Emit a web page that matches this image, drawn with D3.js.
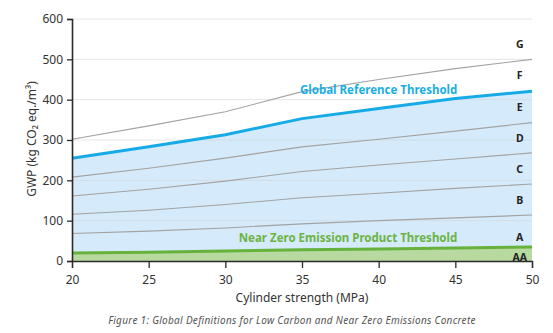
<!DOCTYPE html>
<html>
<head>
<meta charset="utf-8">
<script src="https://cdn.jsdelivr.net/npm/d3@7"></script>
<style>
  body { margin: 0; background: #fff; }
  text { font-family: "Noto Sans", sans-serif; }
</style>
</head>
<body>
<svg id="chart" width="553" height="333"></svg>
<script>
// Strength points along the x axis (MPa)
const strength = [20, 25, 30, 35, 40, 45, 50];

// Class boundaries (kg CO2 eq./m3)
const nearZero = [20, 22, 25, 28, 30, 32, 35];
const lineAB = [68, 74, 82, 92, 100, 107, 114];
const lineBC = [116, 126, 140, 157, 168, 180, 191];
const lineCD = [161, 178, 198, 222, 238, 253, 268];
const lineDE = [208, 230, 255, 283, 302, 322, 343];
const globalRef = [255, 283, 313, 353, 378, 403, 421];
const lineFG = [302, 335, 370, 420, 450, 477, 500];

const classLabels = ["AA", "A", "B", "C", "D", "E", "F", "G"];
const classLabelY = [8, 58, 150, 228, 303, 380, 460, 538];
const yTicks = [0, 100, 200, 300, 400, 500, 600];
const xTicks = [20, 25, 30, 35, 40, 45, 50];

const svg = d3.select("#chart");
const margin = { left: 72, right: 21, top: 19, bottom: 72 };
const width = 553 - margin.left - margin.right;
const height = 333 - margin.top - margin.bottom;

const g = svg.append("g")
  .attr("transform", "translate(" + margin.left + "," + margin.top + ")");

const x = d3.scaleLinear().domain([20, 50]).range([0, width]);
const y = d3.scaleLinear().domain([0, 600]).range([height, 0]);

// Blue band under the global reference, green band under near zero
const area = vals => d3.area()
  .x((d, i) => x(strength[i]))
  .y0(y(0))
  .y1(d => y(d))(vals);

g.append("path").attr("d", area(globalRef)).attr("fill", "#d5eafa");
g.append("path").attr("d", area(nearZero)).attr("fill", "#b8d9a0");

// Horizontal grid
g.selectAll(".grid")
  .data(yTicks.slice(1))
  .enter()
  .append("line")
  .attr("x1", 0)
  .attr("x2", width)
  .attr("y1", d => y(d))
  .attr("y2", d => y(d))
  .attr("stroke", "#cfd6dc")
  .attr("stroke-opacity", 0.6)
  .attr("stroke-width", 1);

const line = d3.line().x((d, i) => x(strength[i])).y(d => y(d));

[lineAB, lineBC, lineCD, lineDE, lineFG].forEach(vals => {
  g.append("path")
    .attr("d", line(vals))
    .attr("fill", "none")
    .attr("stroke", "#a3a3a3")
    .attr("stroke-width", 1.1);
});

g.append("path")
  .attr("d", line(globalRef))
  .attr("fill", "none")
  .attr("stroke", "#16abe6")
  .attr("stroke-width", 3);

g.append("path")
  .attr("d", line(nearZero))
  .attr("fill", "none")
  .attr("stroke", "#67b23c")
  .attr("stroke-width", 3);

// Threshold labels
g.append("text")
  .attr("x", x(40))
  .attr("y", y(415))
  .attr("text-anchor", "middle")
  .attr("fill", "#1aaee6")
  .attr("font-size", 11.5)
  .attr("font-weight", "bold")
  .text("Global Reference Threshold");

g.append("text")
  .attr("x", x(38))
  .attr("y", y(48))
  .attr("text-anchor", "middle")
  .attr("fill", "#6cb443")
  .attr("font-size", 11.5)
  .attr("font-weight", "bold")
  .text("Near Zero Emission Product Threshold");

// Class letters
g.selectAll(".cls")
  .data(classLabels)
  .enter()
  .append("text")
  .attr("x", x(49.2))
  .attr("y", (d, i) => y(classLabelY[i]))
  .attr("dy", "0.35em")
  .attr("text-anchor", "middle")
  .attr("font-size", 10.5)
  .attr("font-weight", "bold")
  .attr("fill", "#222")
  .text(d => d);

// Axes
const yAxis = g.append("g")
  .call(d3.axisLeft(y).tickValues(yTicks).tickSize(5).tickPadding(4));
const xAxis = g.append("g")
  .attr("transform", "translate(0," + height + ")")
  .call(d3.axisBottom(x).tickValues(xTicks).tickSize(7).tickPadding(7));

[yAxis, xAxis].forEach(ax => {
  ax.select(".domain").attr("stroke", "#2b2b2b").attr("stroke-width", 1.6);
  ax.selectAll(".tick line").attr("stroke", "#2b2b2b").attr("stroke-width", 1.3);
  ax.selectAll(".tick text")
    .attr("font-size", 12)
    .attr("fill", "#333")
    .style("font-family", "'Noto Sans', sans-serif");
});
xAxis.select(".domain").attr("stroke-width", 1.3);

// Axis titles
svg.append("text")
  .attr("transform", "translate(36," + 139 + ") rotate(-90)")
  .attr("text-anchor", "middle")
  .attr("font-size", 12)
  .attr("fill", "#333")
  .text("GWP (kg CO\u2082 eq./m\u00B3)");

svg.append("text")
  .attr("x", margin.left + width / 2)
  .attr("y", 302)
  .attr("text-anchor", "middle")
  .attr("font-size", 12)
  .attr("fill", "#333")
  .text("Cylinder strength (MPa)");

svg.append("text")
  .attr("x", 292)
  .attr("y", 324)
  .attr("text-anchor", "middle")
  .attr("font-size", 10)
  .attr("letter-spacing", 0.3)
  .attr("font-style", "italic")
  .attr("fill", "#555")
  .text("Figure 1: Global Definitions for Low Carbon and Near Zero Emissions Concrete");
</script>
</body>
</html>
